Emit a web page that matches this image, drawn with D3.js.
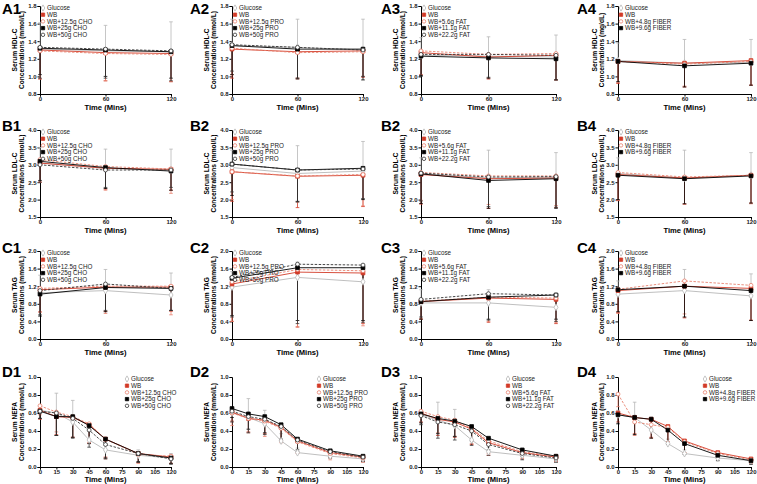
<!DOCTYPE html>
<html><head><meta charset="utf-8">
<script src="https://cdn.jsdelivr.net/npm/d3@7"></script>
<style>body{margin:0;background:#fff}svg{display:block}text{font-family:"Liberation Sans",Arial,sans-serif}</style>
</head><body><svg id="c" width="757" height="484"></svg>
<script>
// ---------- data ----------
const timesABC = [0, 60, 120];
const timesD = [0, 15, 30, 45, 60, 90, 120];
const namesCHO = ["Glucose", "WB", "WB+12.5g CHO", "WB+25g CHO", "WB+50g CHO"];
const namesPRO = ["Glucose", "WB", "WB+12.5g PRO", "WB+25g PRO", "WB+50g PRO"];
const namesFAT = ["Glucose", "WB", "WB+5.6g FAT", "WB+11.1g FAT", "WB+22.2g FAT"];
const namesFIB = ["Glucose", "WB", "WB+4.8g FIBER", "WB+9.6g FIBER"];
const panelLabels = ["A1","A2","A3","A4","B1","B2","B2","B4","C1","C2","C3","C4","D1","D2","D3","D4"];
const ticksHDL = [0.8, 1.0, 1.2, 1.4, 1.6, 1.8];
const ticksLDL = [1.5, 2.0, 2.5, 3.0, 3.5, 4.0];
const ticksTAG = [0.0, 0.4, 0.8, 1.2, 1.6, 2.0];
const ticksNEFA = [0.0, 0.2, 0.4, 0.6, 0.8, 1.0];
const ticksX3 = [0, 60, 120];
const ticksX7 = [0, 15, 30, 45, 60, 75, 90, 105, 120];

// means (per series) and SD (per series)
const A1m = [[1.31,1.29,1.28],[1.30,1.27,1.26],[1.29,1.26,1.25],[1.32,1.30,1.28],[1.33,1.31,1.29]];
const A1s = [[0.30,0.29,0.34],[0.33,0.32,0.32],[0.32,0.31,0.31],[0.30,0.30,0.30],[0.35,0.33,0.34]];
const A2m = [[1.35,1.33,1.30],[1.31,1.28,1.29],[1.32,1.27,1.28],[1.35,1.31,1.31],[1.36,1.33,1.30]];
const A2s = [[0.30,0.32,0.35],[0.33,0.30,0.30],[0.30,0.30,0.28],[0.33,0.33,0.35],[0.30,0.36,0.30]];
const A3m = [[1.24,1.23,1.22],[1.27,1.22,1.24],[1.29,1.25,1.26],[1.23,1.21,1.20],[1.25,1.25,1.24]];
const A3s = [[0.20,0.22,0.25],[0.25,0.25,0.28],[0.27,0.27,0.30],[0.22,0.23,0.24],[0.25,0.26,0.28]];
const A4m = [[1.18,1.15,1.16],[1.17,1.15,1.18],[1.17,1.14,1.17],[1.17,1.12,1.15]];
const A4s = [[0.20,0.27,0.26],[0.25,0.27,0.28],[0.24,0.25,0.27],[0.23,0.24,0.25]];
const B1m = [[3.05,2.90,2.85],[3.05,2.90,2.87],[3.15,2.95,2.88],[3.10,2.92,2.82],[3.00,2.85,2.85]];
const B1s = [[0.45,0.55,0.60],[0.55,0.60,0.60],[0.65,0.68,0.70],[0.55,0.60,0.55],[0.50,0.50,0.50]];
const B2m = [[2.92,2.75,2.82],[2.80,2.67,2.70],[2.80,2.68,2.72],[3.02,2.85,2.90],[3.02,2.85,2.88]];
const B2s = [[0.50,0.80,0.85],[0.85,0.90,0.90],[0.80,0.75,0.90],[0.90,0.90,0.90],[0.80,0.92,0.85]];
const B3m = [[2.75,2.62,2.65],[2.72,2.60,2.62],[2.78,2.68,2.68],[2.74,2.55,2.60],[2.76,2.65,2.66]];
const B3s = [[0.45,0.80,0.70],[0.85,0.85,0.85],[0.80,0.82,0.85],[0.85,0.80,0.85],[0.80,0.85,0.88]];
const B4m = [[2.75,2.62,2.70],[2.72,2.62,2.70],[2.78,2.65,2.70],[2.70,2.60,2.68]];
const B4s = [[0.45,0.80,0.65],[0.75,0.75,0.80],[0.80,0.78,0.82],[0.70,0.72,0.78]];
const C1m = [[1.05,1.10,1.00],[1.12,1.18,1.18],[1.15,1.20,1.20],[1.02,1.17,1.15],[1.10,1.25,1.15]];
const C1s = [[0.40,0.48,0.50],[0.50,0.55,0.55],[0.55,0.62,0.65],[0.50,0.55,0.50],[0.55,0.60,0.50]];
const C2m = [[1.18,1.40,1.30],[1.25,1.52,1.50],[1.30,1.58,1.55],[1.38,1.62,1.62],[1.40,1.70,1.68]];
const C2s = [[0.35,0.35,0.35],[0.85,1.25,1.15],[0.90,1.30,1.25],[0.85,1.20,1.20],[0.90,1.35,1.30]];
const C3m = [[0.82,0.82,0.72],[0.85,0.93,0.90],[0.86,0.95,0.93],[0.85,0.95,1.00],[0.90,1.03,1.00]];
const C3s = [[0.30,0.30,0.30],[0.40,0.55,0.55],[0.40,0.55,0.55],[0.40,0.50,0.55],[0.40,0.60,0.60]];
const C4m = [[1.02,1.10,0.98],[1.10,1.20,1.15],[1.13,1.32,1.22],[1.12,1.20,1.10]];
const C4s = [[0.30,0.48,0.50],[0.50,0.72,0.72],[0.55,0.75,0.80],[0.50,0.70,0.68]];
const D1m = [[0.63,0.60,0.50,0.30,0.19,0.13,0.10],[0.63,0.56,0.55,0.47,0.31,0.15,0.11],[0.68,0.61,0.56,0.48,0.31,0.14,0.12],[0.62,0.56,0.56,0.46,0.31,0.15,0.10],[0.62,0.60,0.54,0.41,0.25,0.15,0.09]];
const D1s = [[0.05,0.22,0.24,0.10,0.05,0.06,0.05],[0.10,0.20,0.22,0.20,0.20,0.10,0.07],[0.10,0.22,0.23,0.22,0.22,0.10,0.08],[0.08,0.21,0.23,0.20,0.21,0.09,0.06],[0.08,0.25,0.22,0.19,0.16,0.10,0.06]];
const D2m = [[0.60,0.55,0.48,0.29,0.16,0.12,0.09],[0.61,0.54,0.52,0.44,0.29,0.16,0.11],[0.60,0.54,0.51,0.43,0.28,0.15,0.10],[0.65,0.59,0.56,0.47,0.31,0.18,0.12],[0.62,0.56,0.53,0.45,0.30,0.17,0.11]];
const D2s = [[0.05,0.21,0.15,0.08,0.05,0.05,0.04],[0.10,0.15,0.15,0.15,0.13,0.06,0.05],[0.14,0.16,0.17,0.16,0.13,0.07,0.05],[0.10,0.17,0.18,0.16,0.12,0.07,0.05],[0.12,0.18,0.17,0.15,0.13,0.07,0.05]];
const D3m = [[0.58,0.52,0.46,0.30,0.17,0.13,0.09],[0.60,0.53,0.50,0.42,0.27,0.16,0.11],[0.62,0.56,0.52,0.43,0.29,0.17,0.12],[0.59,0.54,0.51,0.45,0.32,0.19,0.12],[0.57,0.50,0.47,0.40,0.25,0.15,0.10]];
const D3s = [[0.05,0.20,0.18,0.08,0.05,0.05,0.04],[0.10,0.18,0.17,0.17,0.14,0.07,0.05],[0.12,0.18,0.18,0.17,0.14,0.07,0.05],[0.10,0.17,0.17,0.16,0.13,0.07,0.05],[0.10,0.18,0.17,0.16,0.12,0.07,0.05]];
const D4m = [[0.58,0.55,0.41,0.26,0.15,0.10,0.07],[0.60,0.55,0.53,0.45,0.29,0.16,0.09],[0.81,0.50,0.47,0.44,0.28,0.15,0.08],[0.58,0.55,0.53,0.41,0.26,0.13,0.07]];
const D4s = [[0.05,0.17,0.15,0.05,0.04,0.04,0.03],[0.10,0.18,0.20,0.17,0.13,0.06,0.04],[0.14,0.15,0.15,0.16,0.12,0.05,0.04],[0.10,0.19,0.21,0.16,0.12,0.06,0.04]];

// ---------- styles ----------
const roles5 = ["g","wb","lo","mid","hi"];
const roles4 = ["g","wb","lo","mid"];
const ST = {
  g:  {stroke:"#b8b8b8", fill:"#fff", dash:null, shape:d3.symbolDiamond, size:14},
  wb: {stroke:"#d23b28", fill:"#d23b28", dash:null, shape:d3.symbolSquare, size:14},
  lo: {stroke:"#e8826f", fill:"#fff", dash:"2.5,1.5", shape:d3.symbolCircle, size:12},
  mid:{stroke:"#000", fill:"#000", dash:null, shape:d3.symbolSquare, size:14},
  hi: {stroke:"#333", fill:"#fff", dash:"2.5,1.5", shape:d3.symbolCircle, size:12}
};

const colX = [[40,171],[232,363],[421,556],[618,751]];
const rowY = [[6,94],[130,217],[251,339],[377,467]];
const labX = [2,190,381,577];
const labY = [14,131,253,377];

const rows = [
  {means:[A1m,A2m,A3m,A4m], sds:[A1s,A2s,A3s,A4s], ticks:ticksHDL, dom:[0.8,1.8], t1:"Serum HDL-C", t2:["Concentrations (mmol/L)","Concentrations (mmol/L)","Concentrations (mmol/L)","Concentrations (mg/dL)"], times:timesABC, xt:ticksX3},
  {means:[B1m,B2m,B3m,B4m], sds:[B1s,B2s,B3s,B4s], ticks:ticksLDL, dom:[1.5,4.0], t1:"Serum LDL-C", t2:["Concentrations (mmol/L)","Concentrations (mmol/L)","Concentrations (mmol/L)","Concentrations (mmol/L)"], times:timesABC, xt:ticksX3},
  {means:[C1m,C2m,C3m,C4m], sds:[C1s,C2s,C3s,C4s], ticks:ticksTAG, dom:[0,2.0], t1:"Serum TAG", t2:["Concentrations (mmol/L)","Concentrations (mmol/L)","Concentrations (mmol/L)","Concentrations (mmol/L)"], times:timesABC, xt:ticksX3},
  {means:[D1m,D2m,D3m,D4m], sds:[D1s,D2s,D3s,D4s], ticks:ticksNEFA, dom:[0,1.0], t1:"Serum NEFA", t2:["Concentrations (mmol/L)","Concentrations (mmol/L)","Concentrations (mmol/L)","Concentrations (mmol/L)"], times:timesD, xt:ticksX7}
];
const nameSets = [namesCHO, namesPRO, namesFAT, namesFIB];

const svg = d3.select("#c");
const FONT = "Liberation Sans, Arial, sans-serif";

rows.forEach((row, r) => {
  for (let c = 0; c < 4; c++) {
    const [x0, x1] = colX[c], [y0, y1] = rowY[r];
    const x = d3.scaleLinear().domain([0,120]).range([x0,x1]);
    const y = d3.scaleLinear().domain(row.dom).range([y1,y0]);
    const names = nameSets[c];
    const roles = names.length === 5 ? roles5 : roles4;
    const means = row.means[c], sds = row.sds[c];
    const g = svg.append("g");

    svg.append("text").attr("x", labX[c]).attr("y", labY[r]).text(panelLabels[r*4+c])
      .attr("font-size", 15).attr("font-weight", "bold").attr("font-family", FONT);

    const yAx = g.append("g").attr("transform", `translate(${x0},0)`)
      .call(d3.axisLeft(y).tickValues(row.ticks).tickFormat(d3.format(".1f")).tickSize(2.5).tickPadding(1));
    const xAx = g.append("g").attr("transform", `translate(0,${y1})`)
      .call(d3.axisBottom(x).tickValues(row.xt).tickFormat(d3.format("d")).tickSize(2.5).tickPadding(0.5));
    [yAx, xAx].forEach(a => {
      a.selectAll("text").attr("font-size", 6).attr("font-weight", "bold").attr("font-family", FONT).attr("fill", "#222");
      a.selectAll("path,line").attr("stroke", "#000").attr("stroke-width", 1);
    });

    g.append("text").attr("x", (x0+x1)/2).attr("y", y1 + (r === 3 ? 14.5 : 16)).attr("text-anchor", "middle")
      .attr("font-size", 7.6).attr("font-weight", "bold").attr("font-family", FONT).text("Time (Mins)");
    const ym = (y0+y1)/2;
    const tx = c === 3 ? x0 - 21 : x0 - 23;
    g.append("text").attr("transform", `translate(${tx},${ym}) rotate(-90)`).attr("text-anchor","middle")
      .attr("font-size", 6.6).attr("font-weight","bold").attr("font-family", FONT).text(row.t1);
    g.append("text").attr("transform", `translate(${tx+7.3},${ym}) rotate(-90)`).attr("text-anchor","middle")
      .attr("font-size", 6.6).attr("font-weight","bold").attr("font-family", FONT).text(row.t2[c]);

    const order = d3.range(names.length);
    order.forEach(i => {
      const st = ST[roles[i]];
      const up = i === 0;
      row.times.forEach((t, k) => {
        const v = means[i][k], e = sds[i][k];
        const yEnd = y(Math.max(row.dom[0], up ? v + e : v - e));
        const xx = x(t);
        g.append("line").attr("x1", xx).attr("x2", xx).attr("y1", y(v)).attr("y2", yEnd)
          .attr("stroke", st.stroke).attr("stroke-width", 0.8);
        g.append("line").attr("x1", xx-1.8).attr("x2", xx+1.8).attr("y1", yEnd).attr("y2", yEnd)
          .attr("stroke", st.stroke).attr("stroke-width", 0.8);
      });
    });
    order.forEach(i => {
      const st = ST[roles[i]];
      const line = d3.line().x((d,k) => x(row.times[k])).y(d => y(d));
      g.append("path").attr("d", line(means[i])).attr("fill","none").attr("stroke", st.stroke)
        .attr("stroke-width", 0.9).attr("stroke-dasharray", st.dash);
    });
    order.forEach(i => {
      const st = ST[roles[i]];
      const sym = d3.symbol().type(st.shape).size(st.size);
      means[i].forEach((v,k) => {
        g.append("path").attr("d", sym()).attr("transform", `translate(${x(row.times[k])},${y(v)})`)
          .attr("fill", st.fill).attr("stroke", st.stroke).attr("stroke-width", 0.8);
      });
    });

    const lx = r === 3 ? x0 + 87 : x0 + 3;
    const ly = y0 + 2;
    names.forEach((nm, i) => {
      const st = ST[roles[i]];
      const yy = ly + i * 6.7;
      const sym = d3.symbol().type(st.shape).size(st.size*0.8);
      g.append("path").attr("d", sym()).attr("transform", `translate(${lx},${yy})`)
        .attr("fill", st.fill).attr("stroke", st.stroke).attr("stroke-width", 0.8);
      g.append("text").attr("x", lx + 4).attr("y", yy + 2.3).attr("font-size", 6.3)
        .attr("font-family", FONT).attr("fill", "#222").text(nm);
    });
  }
});
</script></body></html>
